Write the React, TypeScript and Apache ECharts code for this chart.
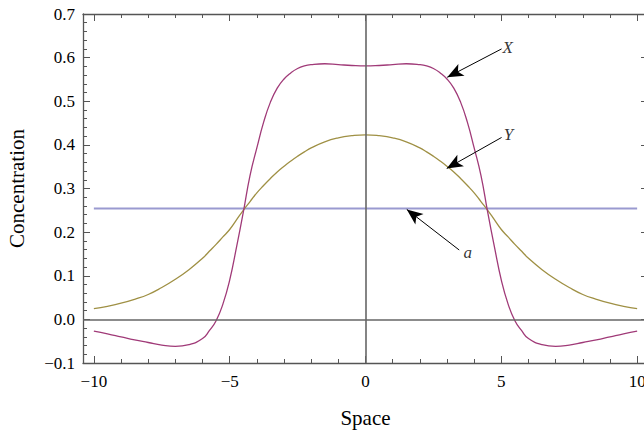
import React, { useEffect, useRef } from "react";
import * as echarts from "echarts";

// ---- data ----
const xs = [
  -10, -9.5, -9, -8.5, -8, -7.5, -7, -6.5, -6, -5.75, -5.5, -5.25, -5, -4.75, -4.5, -4.25, -4,
  -3.75, -3.5, -3.25, -3, -2.75, -2.5, -2.25, -2, -1.5, -1, -0.5, 0, 0.5, 1, 1.5, 2, 2.25, 2.5,
  2.75, 3, 3.25, 3.5, 3.75, 4, 4.25, 4.5, 4.75, 5, 5.25, 5.5, 5.75, 6, 6.5, 7, 7.5, 8, 8.5, 9,
  9.5, 10,
];
const seriesX = [
  -0.027, -0.033, -0.04, -0.047, -0.053, -0.059, -0.062, -0.058, -0.044, -0.026, -0.003, 0.035,
  0.09, 0.165, 0.245, 0.33, 0.393, 0.452, 0.498, 0.53, 0.551, 0.565, 0.575, 0.581, 0.584, 0.586,
  0.584, 0.582, 0.581, 0.582, 0.584, 0.586, 0.584, 0.581, 0.575, 0.565, 0.551, 0.53, 0.498,
  0.452, 0.393, 0.33, 0.245, 0.165, 0.09, 0.035, -0.003, -0.026, -0.044, -0.058, -0.062, -0.059,
  -0.053, -0.047, -0.04, -0.033, -0.027,
];
const seriesY = [
  0.0245, 0.03, 0.037, 0.046, 0.057, 0.073, 0.092, 0.114, 0.14, 0.156, 0.172, 0.189, 0.206, 0.228,
  0.25, 0.27, 0.29, 0.307, 0.323, 0.338, 0.351, 0.363, 0.374, 0.384, 0.393, 0.407, 0.416, 0.421,
  0.423, 0.421, 0.416, 0.407, 0.393, 0.384, 0.374, 0.363, 0.351, 0.338, 0.323, 0.307, 0.29, 0.27,
  0.25, 0.228, 0.206, 0.189, 0.172, 0.156, 0.14, 0.114, 0.092, 0.073, 0.057, 0.046, 0.037, 0.03,
  0.0245,
];
const aXs = [-10, 10];
const aValues = [0.254, 0.254];

const xMajorTicks = [-10, -5, 0, 5, 10];
const xMinorTicks = [-10, -9, -8, -7, -6, -5, -4, -3, -2, -1, 0, 1, 2, 3, 4, 5, 6, 7, 8, 9, 10];

// annotation arrows: [fromX, fromY, toX, toY]
const arrowX = [5.01, 0.62, 3.01, 0.555];
const arrowY = [5.01, 0.417, 2.99, 0.346];
const arrowA = [3.45, 0.159, 1.52, 0.252];
const labelNames = ["X", "Y", "a"];
const labelPos = [
  [5.23, 0.623],
  [5.26, 0.423],
  [3.76, 0.153],
];

const FONT = "'Liberation Serif', 'Times New Roman', serif";
const FRAME = "#555";
const fmt = (v: number, d: number) => v.toFixed(d).replace("-", "\u2212");

export default function App() {
  const ref = useRef<HTMLDivElement>(null);
  useEffect(() => {
    if (!ref.current) return;
    const chart = echarts.init(ref.current, undefined, { renderer: "svg" });
    const pairs = (a: number[], b: number[]) => a.map((x, i) => [x, b[i]]);
    const arrow = (p: number[]) => [{ coord: [p[0], p[1]] }, { coord: [p[2], p[3]] }];
    const baseX = {
      type: "value" as const,
      min: -10.4,
      max: 10.4,
      splitLine: { show: false },
      axisLine: { show: false, onZero: false },
      axisLabel: { show: false },
    };
    const baseY = {
      type: "value" as const,
      min: -0.1,
      max: 0.7,
      interval: 0.1,
      splitLine: { show: false },
      minorSplitLine: { show: false },
    };
    chart.setOption({
      animation: false,
      grid: { left: 83, top: 14, right: -4, bottom: 71, outerBoundsMode: "none", containLabel: false },
      xAxis: [
        {
          ...baseX,
          position: "bottom",
          name: "Space",
          nameLocation: "middle",
          nameGap: 44,
          nameTextStyle: { fontFamily: FONT, fontSize: 21, color: "#000" },
          axisLine: { show: true, onZero: false, lineStyle: { color: FRAME, width: 1.3 } },
          axisTick: {
            show: true,
            inside: true,
            length: 7,
            customValues: xMajorTicks,
            lineStyle: { color: FRAME, width: 1 },
          },
          axisLabel: {
            show: true,
            customValues: xMajorTicks,
            margin: 10,
            fontFamily: FONT,
            fontSize: 17,
            color: "#000",
            formatter: (v: number) => fmt(v, 0),
          },
        },
        {
          ...baseX,
          position: "bottom",
          axisTick: {
            show: true,
            inside: true,
            length: 4,
            customValues: xMinorTicks,
            lineStyle: { color: FRAME, width: 1 },
          },
        },
        {
          ...baseX,
          position: "top",
          axisLine: { show: true, onZero: false, lineStyle: { color: FRAME, width: 1.3 } },
          axisTick: {
            show: true,
            inside: true,
            length: 7,
            customValues: xMajorTicks,
            lineStyle: { color: FRAME, width: 1 },
          },
        },
        {
          ...baseX,
          position: "top",
          axisTick: {
            show: true,
            inside: true,
            length: 4,
            customValues: xMinorTicks,
            lineStyle: { color: FRAME, width: 1 },
          },
        },
      ],
      yAxis: [
        {
          ...baseY,
          position: "left",
          name: "Concentration",
          nameLocation: "middle",
          nameGap: 56,
          nameTextStyle: { fontFamily: FONT, fontSize: 21, color: "#000" },
          axisLine: { show: true, onZero: false, lineStyle: { color: FRAME, width: 1.3 } },
          axisTick: { show: true, inside: true, length: 7, lineStyle: { color: FRAME, width: 1 } },
          minorTick: {
            show: true,
            splitNumber: 5,
            length: 4,
            lineStyle: { color: FRAME, width: 1 },
          },
          axisLabel: {
            margin: 8,
            fontFamily: FONT,
            fontSize: 17,
            color: "#000",
            formatter: (v: number) => fmt(v, 1),
          },
        },
        {
          ...baseY,
          position: "right",
          axisLine: { show: true, onZero: false, lineStyle: { color: FRAME, width: 1.3 } },
          axisTick: { show: true, inside: true, length: 7, lineStyle: { color: FRAME, width: 1 } },
          minorTick: {
            show: true,
            splitNumber: 5,
            length: 4,
            lineStyle: { color: FRAME, width: 1 },
          },
          axisLabel: { show: false },
        },
      ],
      series: [
        {
          name: "axes",
          type: "line",
          data: [],
          z: 1,
          markLine: {
            silent: true,
            symbol: ["none", "none"],
            label: { show: false },
            lineStyle: { color: "#666", width: 1.6, type: "solid" },
            data: [{ xAxis: 0 }, { yAxis: 0 }],
          },
        },
        {
          name: "a",
          type: "line",
          data: pairs(aXs, aValues),
          showSymbol: false,
          symbol: "none",
          lineStyle: { color: "#9a9ad0", width: 2 },
          z: 2,
        },
        {
          name: "Y",
          type: "line",
          data: pairs(xs, seriesY),
          showSymbol: false,
          symbol: "none",
          smooth: 0.5,
          lineStyle: { color: "#9f9044", width: 1.3 },
          z: 3,
        },
        {
          name: "X",
          type: "line",
          data: pairs(xs, seriesX),
          showSymbol: false,
          symbol: "none",
          smooth: 0.5,
          lineStyle: { color: "#a03a78", width: 1.3 },
          z: 4,
        },
        {
          name: "arrows",
          type: "line",
          data: [],
          z: 5,
          markLine: {
            silent: true,
            symbol: ["none", "arrow"],
            symbolSize: [10, 16],
            label: { show: false },
            lineStyle: { color: "#000", width: 1, type: "solid" },
            itemStyle: { color: "#000" },
            data: [arrow(arrowX), arrow(arrowY), arrow(arrowA)],
          },
        },
        {
          name: "labels",
          type: "scatter",
          symbolSize: 1,
          itemStyle: { color: "rgba(0,0,0,0)" },
          z: 6,
          label: {
            show: true,
            position: "inside",
            formatter: "{b}",
            fontFamily: FONT,
            fontStyle: "italic",
            fontSize: 17,
            color: "#000",
          },
          data: labelNames.map((n, i) => ({ name: n, value: labelPos[i] })),
        },
      ],
    });
    return () => chart.dispose();
  }, []);
  return (
    <div
      ref={ref}
      style={{ position: "absolute", left: 0, top: 0, width: 644, height: 434, background: "#fff" }}
    />
  );
}
